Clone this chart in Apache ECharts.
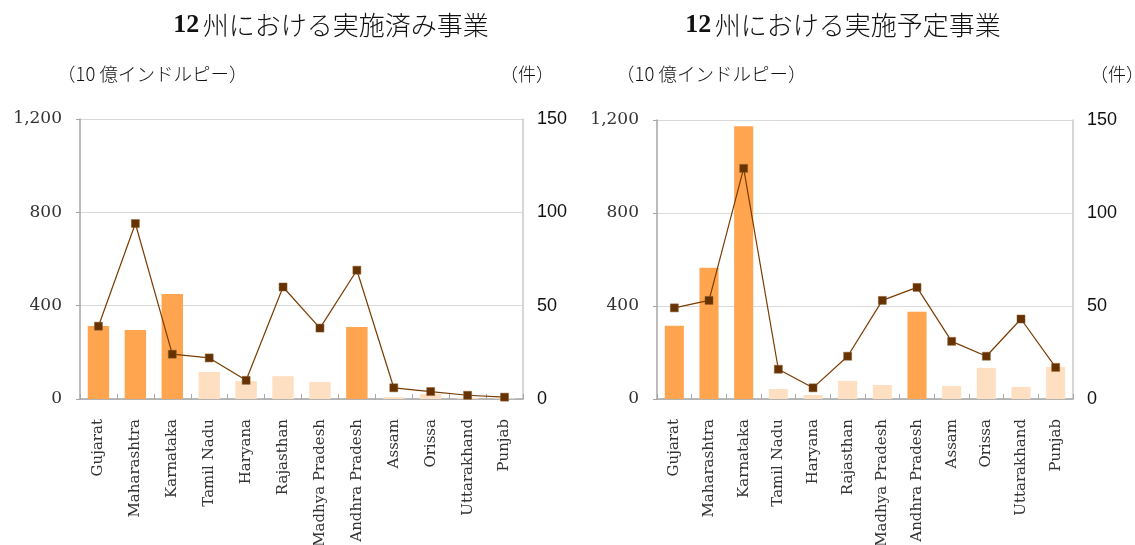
<!DOCTYPE html>
<html>
<head>
<meta charset="utf-8">
<script src="https://cdn.jsdelivr.net/npm/echarts@6/dist/echarts.min.js"></script>
<style>
  html, body { margin: 0; padding: 0; background: #fff; }
  #chart { width: 1135px; height: 545px; }
</style>
</head>
<body>
<div id="chart"></div>
<script>
// States, in display order
const states = ['Gujarat', 'Maharashtra', 'Karnataka', 'Tamil Nadu', 'Haryana', 'Rajasthan',
  'Madhya Pradesh', 'Andhra Pradesh', 'Assam', 'Orissa', 'Uttarakhand', 'Punjab'];
// States drawn in the stronger bar colour
const focusStates = ['Gujarat', 'Maharashtra', 'Karnataka', 'Andhra Pradesh'];

// Completed projects: amount (10 億インドルピー) and count (件)
const doneAmount = [313, 296, 450, 116, 77, 98, 73, 309, 8, 22, 6, 3];
const doneCount = [39, 94, 24, 22, 10, 60, 38, 69, 6, 4, 2, 1];

// Planned projects: amount (10 億インドルピー) and count (件)
const planAmount = [315, 565, 1173, 43, 17, 78, 60, 375, 56, 134, 52, 138];
const planCount = [49, 53, 124, 16, 6, 23, 53, 60, 31, 23, 43, 17];

const leftTicks = { min: 0, max: 1200, interval: 400 };
const rightTicks = { min: 0, max: 150, interval: 50 };

const titles = ['州における実施済み事業', '州における実施予定事業'];
const titleNumber = '12';
const unitLeft = '（10 億インドルピー）';
const unitRight = '（件）';

const DARK = '#FFA550';
const LIGHT = '#FFDFC2';
const serif = '"DejaVu Serif", "Liberation Serif", serif';
const timesLike = '"Liberation Serif", serif';
const sans = '"Liberation Sans", Arial, sans-serif';
const cjk = '"Noto Sans CJK JP", sans-serif';

// Plot areas are fixed; long rotated labels may run off the bottom edge
const grids = [
  { left: 80, right: 612, top: 119, bottom: 146, outerBoundsMode: 'none', containLabel: false },
  { left: 657, right: 62, top: 120, bottom: 146, outerBoundsMode: 'none', containLabel: false }
];

function barData(values) {
  return values.map((v, i) => ({
    value: v,
    itemStyle: { color: focusStates.includes(states[i]) ? DARK : LIGHT }
  }));
}

const xAxes = [], yAxes = [], series = [], graphics = [];
grids.forEach((g, k) => {
  xAxes.push({
    type: 'category', gridIndex: k, data: states,
    axisLine: { lineStyle: { color: '#A6A6A6', width: 1.5 } },
    axisTick: { show: true, inside: true, length: 5, lineStyle: { color: '#A6A6A6' } },
    axisLabel: { rotate: 90, margin: 20, fontFamily: serif, fontSize: 15, color: '#333', interval: 0 }
  });
  yAxes.push({
    type: 'value', gridIndex: k, position: 'left',
    min: leftTicks.min, max: leftTicks.max, interval: leftTicks.interval,
    axisLine: { show: true, lineStyle: { color: '#A6A6A6', width: 1.5 } },
    axisTick: { show: true, length: 4, inside: false, lineStyle: { color: '#A6A6A6' } },
    splitLine: { lineStyle: { color: '#D9D9D9', width: 1.2 } },
    axisLabel: {
      margin: 18, fontFamily: serif, fontSize: 17, color: '#333',
      formatter: v => v.toLocaleString('en-US')
    }
  });
  yAxes.push({
    type: 'value', gridIndex: k, position: 'right',
    min: rightTicks.min, max: rightTicks.max, interval: rightTicks.interval,
    axisLine: { show: true, lineStyle: { color: '#C8C8C8', width: 1.5 } },
    axisTick: { show: false },
    splitLine: { show: false },
    axisLabel: { margin: 14, fontFamily: sans, fontSize: 18, color: '#111' }
  });
});

const sets = [[doneAmount, doneCount], [planAmount, planCount]];
sets.forEach(([amt, cnt], k) => {
  series.push({
    type: 'bar', xAxisIndex: k, yAxisIndex: k * 2,
    barWidth: k === 0 ? '58%' : '55%',
    data: barData(amt), silent: true
  });
  series.push({
    type: 'line', xAxisIndex: k, yAxisIndex: k * 2 + 1,
    data: cnt, symbol: 'rect', symbolSize: 8,
    lineStyle: { color: '#7A3B00', width: 1.2 },
    itemStyle: { color: '#663300', borderColor: '#8a5a30', borderWidth: 0.5 },
    silent: true, z: 5
  });
});

const titleCenters = [331, 843];
const unitLeftX = [57, 616];
const unitRightX = [500, 1090];
titleCenters.forEach((cx, k) => {
  graphics.push({
    type: 'text', x: cx, y: 25,
    style: {
      text: '{n|' + titleNumber + '} {t|' + titles[k] + '}',
      align: 'center', verticalAlign: 'middle',
      rich: {
        n: { fontFamily: timesLike, fontWeight: 'bold', fontSize: 26, fill: '#111' },
        t: { fontFamily: cjk, fontWeight: 300, fontSize: 26, fill: '#111' }
      }
    }
  });
  graphics.push({
    type: 'text', x: unitLeftX[k], y: 74,
    style: { text: unitLeft, fontFamily: cjk, fontWeight: 300, fontSize: 18.5, fill: '#111', verticalAlign: 'middle' }
  });
  graphics.push({
    type: 'text', x: unitRightX[k], y: 74,
    style: { text: unitRight, fontFamily: cjk, fontWeight: 300, fontSize: 18, fill: '#111', verticalAlign: 'middle' }
  });
});

const chart = echarts.init(document.getElementById('chart'), null, { renderer: 'canvas' });
chart.setOption({
  animation: false,
  grid: grids,
  xAxis: xAxes,
  yAxis: yAxes,
  series: series,
  graphic: graphics
});
</script>
</body>
</html>
